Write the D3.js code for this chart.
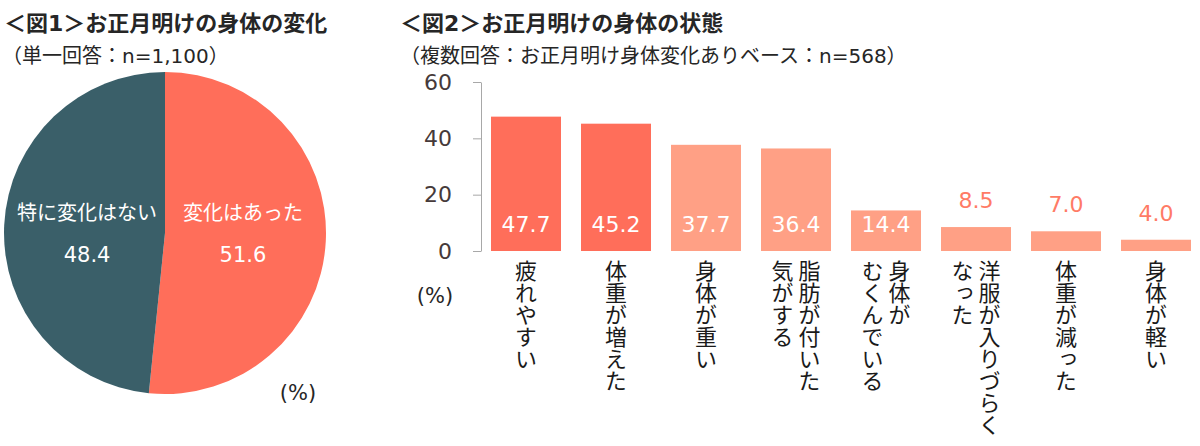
<!DOCTYPE html>
<html><head><meta charset="utf-8">
<script src="https://cdn.jsdelivr.net/npm/d3@7"></script>
<style>
body{margin:0;background:#fff;}
svg{display:block;}
.jp{font-family:"Noto Sans CJK JP","Noto Sans",sans-serif;}
.mix{font-family:"DejaVu Sans","Noto Sans CJK JP",sans-serif;}
.num{font-family:"DejaVu Sans",Verdana,sans-serif;}
</style></head>
<body>
<svg id="c" width="1200" height="446"></svg>
<script>
// ---- data ----
const pieLabels = ["変化はあった", "特に変化はない"];
const pieValues = [51.6, 48.4];
const barCategories = [
  ["疲れやすい"], ["体重が増えた"], ["身体が重い"], ["脂肪が付いた", "気がする"],
  ["身体が", "むくんでいる"], ["洋服が入りづらく", "なった"], ["体重が減った"], ["身体が軽い"]
];
const barValues = [47.7, 45.2, 37.7, 36.4, 14.4, 8.5, 7.0, 4.0];
const yTicks = [0, 20, 40, 60];
const title1 = "＜図1＞お正月明けの身体の変化";
const sub1 = "（単一回答：n=1,100）";
const title2 = "＜図2＞お正月明けの身体の状態";
const sub2 = "（複数回答：お正月明け身体変化ありベース：n=568）";
const unitLabel = "(%)";

const svg = d3.select("#c");
const textCol = "#262626";

// titles
svg.append("text").attr("class","mix").attr("x",4).attr("y",31).attr("font-size",22).attr("font-weight","bold").attr("fill",textCol).text(title1);
svg.append("text").attr("class","mix").attr("x",2).attr("y",63).attr("font-size",20).attr("fill",textCol).text(sub1);
svg.append("text").attr("class","mix").attr("x",400).attr("y",31).attr("font-size",22).attr("font-weight","bold").attr("fill",textCol).text(title2);
svg.append("text").attr("class","mix").attr("x",400).attr("y",63).attr("font-size",20).attr("fill",textCol).text(sub2);

// ---- pie ----
const cx = 165, cy = 233, r = 161;
const pieColors = ["#FF6E5A", "#3A5F69"];
const pie = d3.pie().sort(null).value(d => d)(pieValues);
const arc = d3.arc().innerRadius(0).outerRadius(r);
const labelArc = d3.arc().innerRadius(78).outerRadius(78);
const pg = svg.append("g").attr("transform", `translate(${cx},${cy})`);
pg.selectAll("path").data(pie).join("path").attr("d", arc).attr("fill", (d,i) => pieColors[i]);
pie.forEach((d,i) => {
  const [lx] = labelArc.centroid(d);
  pg.append("text").attr("class","jp").attr("x", lx).attr("y", -13).attr("text-anchor","middle")
    .attr("font-size",20).attr("fill","#fff").text(pieLabels[i]);
  pg.append("text").attr("class","num").attr("x", lx).attr("y", 29).attr("text-anchor","middle")
    .attr("font-size",21).attr("fill","#fff").text(pieValues[i].toFixed(1));
});
svg.append("text").attr("class","num").attr("x",298).attr("y",400).attr("text-anchor","middle").attr("font-size",21).attr("fill",textCol).text(unitLabel);

// ---- bar chart ----
const x = d3.scaleBand().domain(d3.range(barValues.length)).range([481, 1201]).paddingInner(20/90).paddingOuter(10/90);
const y = d3.scaleLinear().domain([0, 60]).range([251, 82]);

const axis = svg.append("g").attr("transform","translate(481,0)")
  .call(d3.axisLeft(y).tickValues(yTicks).tickSize(8).tickPadding(21).tickSizeOuter(0));
axis.select(".domain").attr("stroke","#a8a8a8");
axis.selectAll(".tick line").attr("stroke","#a8a8a8");
axis.selectAll(".tick text").attr("class","num").attr("font-size",22).attr("fill","#463a3a");

const darkBar = "#FF6E5A", lightBar = "#FFA085";
svg.append("g").selectAll("rect").data(barValues).join("rect")
  .attr("x",(d,i)=>x(i)).attr("width",x.bandwidth())
  .attr("y",d=>y(d)).attr("height",d=>y(0)-y(d))
  .attr("fill",(d,i)=> i<2 ? darkBar : lightBar);

svg.append("g").selectAll("text").data(barValues).join("text")
  .attr("class","num")
  .attr("x",(d,i)=>x(i)+x.bandwidth()/2)
  .attr("y",d=> d>10 ? 232 : y(d)-19)
  .attr("text-anchor","middle").attr("font-size",22)
  .attr("fill",d=> d>10 ? "#fff" : "#FF7B66")
  .text(d=>d.toFixed(1));

// vertical category labels
const colGap = 27;
barCategories.forEach((lines,i) => {
  const c = x(i) + x.bandwidth()/2;
  const n = lines.length;
  lines.forEach((t,j) => {
    const lx = c + ((n-1)/2 - j) * colGap;
    svg.append("text").attr("class","jp")
      .attr("x", lx).attr("y", 260)
      .style("writing-mode","vertical-rl")
      .attr("font-size",22).attr("fill","#1a1a1a")
      .text(t);
  });
});
svg.append("text").attr("class","num").attr("x",435).attr("y",303).attr("text-anchor","middle").attr("font-size",21).attr("fill",textCol).text(unitLabel);
</script>
</body></html>
